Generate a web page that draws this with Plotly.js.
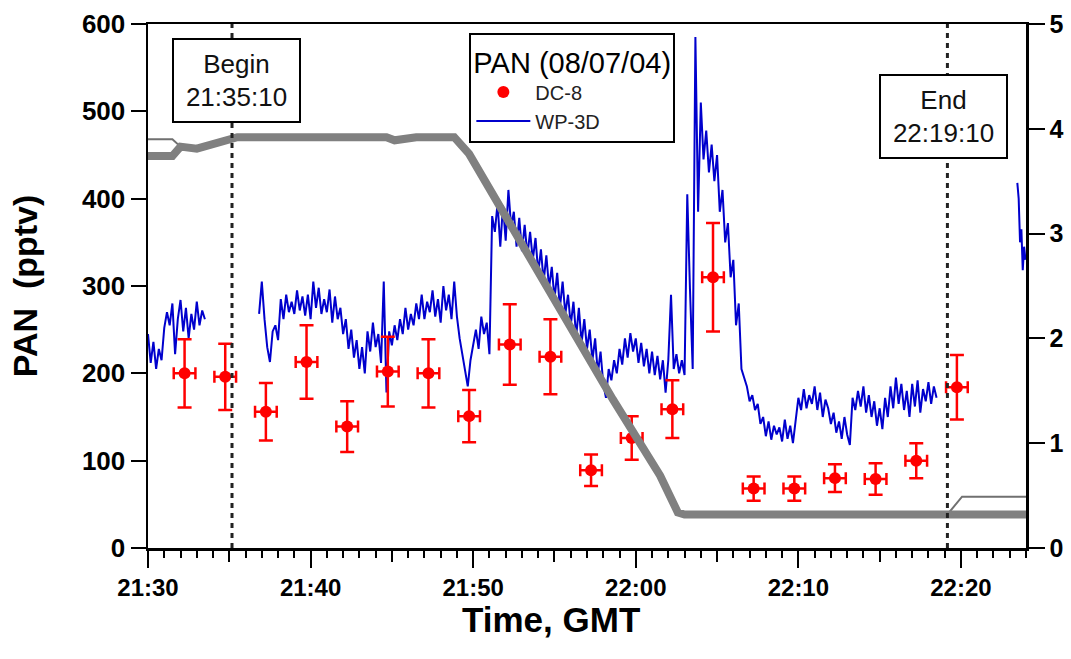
<!DOCTYPE html>
<html>
<head>
<meta charset="utf-8">
<script src="https://cdn.plot.ly/plotly-3.0.1.min.js"></script>
<style>html,body{margin:0;padding:0;background:#fff;}#chart{width:1071px;height:659px;}</style>
</head>
<body>
<div id="chart"></div>
<script>
// ---------- data ----------
const tickLabels = ['21:30','21:40','21:50','22:00','22:10','22:20'];
const axisStart = '21:30:00';
const axisEnd = '22:24:00';
const beginTime = '21:35:10';
const endTime = '22:19:10';
const xTitle = 'Time, GMT';
const yTitle = 'PAN &nbsp;(pptv)';
const legendTitle = 'PAN (08/07/04)';

// DC-8 PAN (pptv)
const dc8Times = ['21:32:15','21:34:45','21:37:15','21:39:45','21:42:15','21:44:45','21:47:15','21:49:45','21:52:15','21:54:45','21:57:15','21:59:45','22:02:15','22:04:45','22:07:15','22:09:45','22:12:15','22:14:45','22:17:15','22:19:45'];
const dc8Pan = [200,196,156,213,139,202,200,151,233,219,89,126,159,310,68,68,80,79,100,184];
const dc8PanErr = [39,38,33,42,29,40,39,30,46,43,18,25,33,62,14,14,16,18,20,37];
const dc8TimeErrSec = 40;

// WP-3D PAN (pptv), three continuous segments
const wp3dSeg1Start = '21:30:00';
const wp3dSeg1StepSec = 10;
const wp3dSeg1 = [245,212,236,205,228,215,252,270,255,280,222,262,284,248,275,240,268,250,282,255,272,262];

const wp3dSeg2Start = '21:36:50';
const wp3dSeg2StepSec = 10;
const wp3dSeg2 = [
268,305,262,230,213,248, 255,238,285,262,290,270, 282,268,295,272,288,266, 290,262,305,275,298,268,
285,270,296,258,288,262, 275,245,262,228,250,218, 238,205,230,200,248,225, 258,230,245,212,305,178,
248,232,255,238,262,245, 275,250,268,255,280,262, 290,262,282,270,295,265, 285,258,300,272,290,262,
305,265,240,220,205,185, 215,232,250,228,265,245, 258,222,380,362,395,345, 392,352,410,368,385,345,
378,340,370,335,362,330, 355,315,342,305,335,298, 322,285,315,275,305,268, 290,255,282,242,275,235,
262,228,250,215,240,200, 225,188,172,205,192,215, 200,228,210,240,218,246, 225,240,212,235,208,228,
200,225,198,220,193,215, 178,215,290,205,222,200, 215,198,405,296,205,585, 385,510,445,478,430,462,
420,450,385,410,350,372, 310,330,255,280,205,195, 185,168,175,158,165,142, 150,128,145,124,140,130,
138,122,147,125,140,120, 150,172,158,182,160,175, 165,185,158,178,150,170, 160,142,155,132,145,125,
150,130,118,172,158,180, 162,185,155,175,150,168, 140,160,136,172,150,185, 160,195,165,188,158,180,
150,188,162,192,155,182, 168,190,165,185,172];

const wp3dSeg3Start = '22:23:28';
const wp3dSeg3StepSec = 5;
const wp3dSeg3 = [418,400,350,365,318,345,330];

// Altitude (km, right axis)
const altThickTimes = ['21:30:00','21:31:30','21:32:00','21:33:00','21:35:30','21:44:40','21:45:10','21:46:00','21:46:30','21:48:50','21:49:45','21:58:35','22:01:30','22:02:35','22:03:00','22:24:00'];
const altThickKm = [3.74,3.74,3.83,3.81,3.92,3.92,3.89,3.90,3.92,3.92,3.76,1.42,0.69,0.34,0.32,0.32];
const altThinTimes = ['21:30:00','21:31:30','21:32:00','21:33:00','21:35:30','21:48:50','21:49:45','21:58:35','22:01:30','22:02:35','22:03:00','22:19:10','22:20:04','22:24:00'];
const altThinKm = [3.90,3.90,3.83,3.81,3.92,3.92,3.76,1.42,0.69,0.34,0.32,0.32,0.49,0.49];

// ---------- helpers ----------
function toMin(s){
  const p = s.split(':').map(Number);
  return p[0]*60 + p[1] + (p[2]||0)/60 - (21*60+30);
}
const xMin = toMin(axisStart), xMax = toMin(axisEnd);
const majorVals = tickLabels.map(t => toMin(t + ':00'));
const mediumVals = majorVals.map(v => v + 5).filter(v => v < xMax);

const FONT = 'Liberation Sans, Arial, sans-serif';
const BLUE = '#0000cd';
const RED = '#ff0000';
const BLUEW = 2;

const traces = [
  {x: altThinTimes.map(toMin), y: altThinKm, yaxis: 'y2', mode: 'lines',
   line: {color: '#707070', width: 2}, showlegend: false, hoverinfo: 'skip'},
  {x: altThickTimes.map(toMin), y: altThickKm, yaxis: 'y2', mode: 'lines',
   line: {color: '#808080', width: 8}, showlegend: false, hoverinfo: 'skip'},
  {x0: toMin(wp3dSeg1Start), dx: wp3dSeg1StepSec/60, y: wp3dSeg1, mode: 'lines', name: 'WP-3D',
   legendgroup: 'wp', legendrank: 2, line: {color: BLUE, width: BLUEW}},
  {x0: toMin(wp3dSeg2Start), dx: wp3dSeg2StepSec/60, y: wp3dSeg2, mode: 'lines', name: 'WP-3D',
   legendgroup: 'wp', showlegend: false, line: {color: BLUE, width: BLUEW}},
  {x0: toMin(wp3dSeg3Start), dx: wp3dSeg3StepSec/60, y: wp3dSeg3, mode: 'lines', name: 'WP-3D',
   legendgroup: 'wp', showlegend: false, line: {color: BLUE, width: BLUEW}},
  {x: dc8Times.map(toMin), y: dc8Pan, mode: 'markers', name: 'DC-8', legendrank: 1,
   marker: {color: RED, size: 12},
   error_y: {type: 'data', array: dc8PanErr, color: RED, thickness: 2.5, width: 7},
   error_x: {type: 'constant', value: dc8TimeErrSec/60, color: RED, thickness: 2.5, width: 6}},
  {x: [xMin], y: [null], xaxis: 'x2', mode: 'lines', showlegend: false, hoverinfo: 'skip'}
];

const layout = {
  width: 1071, height: 659,
  margin: {l: 148, r: 45, t: 24, b: 111},
  paper_bgcolor: '#fff', plot_bgcolor: '#fff',
  font: {family: FONT, color: '#000'},
  showlegend: true,
  xaxis: {
    range: [xMin, xMax], tickmode: 'array', tickvals: majorVals, ticktext: tickLabels,
    ticks: 'outside', ticklen: 17, tickwidth: 2, tickcolor: '#000',
    showline: true, linewidth: 2.5, linecolor: '#000', mirror: true,
    showgrid: false, zeroline: false,
    tickfont: {family: FONT, size: 24, weight: 'bold', color: '#000'},
    minor: {tickmode: 'linear', tick0: 0, dtick: 1, ticks: 'outside', ticklen: 7, tickwidth: 2, tickcolor: '#000', showgrid: false}
  },
  xaxis2: {
    overlaying: 'x', anchor: 'y', side: 'bottom', range: [xMin, xMax],
    tickmode: 'array', tickvals: mediumVals, ticks: 'outside', ticklen: 13, tickwidth: 2, tickcolor: '#000',
    showticklabels: false, showline: false, showgrid: false, zeroline: false
  },
  yaxis: {
    range: [0, 600], dtick: 100, ticks: 'outside', ticklen: 15, tickwidth: 2, tickcolor: '#000',
    showline: true, linewidth: 2.5, linecolor: '#000', showgrid: false, zeroline: false,
    tickfont: {family: FONT, size: 26, weight: 'bold', color: '#000'},
    title: {text: yTitle, font: {family: FONT, size: 34, weight: 'bold', color: '#000'}, standoff: 34}
  },
  yaxis2: {
    overlaying: 'y', side: 'right', range: [0, 5], dtick: 1,
    ticks: 'outside', ticklen: 16, tickwidth: 2, tickcolor: '#000',
    showline: true, linewidth: 2.5, linecolor: '#000', showgrid: false, zeroline: false,
    tickfont: {family: FONT, size: 25, weight: 'bold', color: '#000'}
  },
  legend: {
    x: 0.366, y: 0.983, xanchor: 'left', yanchor: 'top',
    bgcolor: '#fff', bordercolor: '#000', borderwidth: 2,
    font: {family: FONT, size: 20, color: '#222'},
    title: {text: legendTitle, font: {family: FONT, size: 29, color: '#000'}},
    tracegroupgap: 0, indentation: 0, itemwidth: 54
  },
  shapes: [beginTime, endTime].map(t => ({
    type: 'line', xref: 'x', yref: 'y', x0: toMin(t), x1: toMin(t), y0: 0, y1: 600,
    line: {color: '#222', width: 3, dash: '5px,5px'}, layer: 'above'
  })),
  annotations: [
    {x: toMin(beginTime), y: 535, xref: 'x', yref: 'y', xshift: 4, showarrow: false,
     text: 'Begin<br>' + beginTime, align: 'center',
     font: {family: FONT, size: 26, color: '#111'},
     bgcolor: '#fff', bordercolor: '#000', borderwidth: 2, borderpad: 1, width: 123, height: 79},
    {x: toMin(endTime), y: 494, xref: 'x', yref: 'y', xshift: -4, showarrow: false,
     text: 'End<br>' + endTime, align: 'center',
     font: {family: FONT, size: 26, color: '#111'},
     bgcolor: '#fff', bordercolor: '#000', borderwidth: 2, borderpad: 1, width: 123, height: 79},
    {x: 0.459, y: -0.137, xref: 'paper', yref: 'paper', xanchor: 'center', yanchor: 'middle', showarrow: false,
     text: xTitle, font: {family: FONT, size: 35, weight: 'bold', color: '#000'}}
  ]
};

Plotly.newPlot('chart', traces, layout, {displayModeBar: false, staticPlot: true});
</script>
</body>
</html>
